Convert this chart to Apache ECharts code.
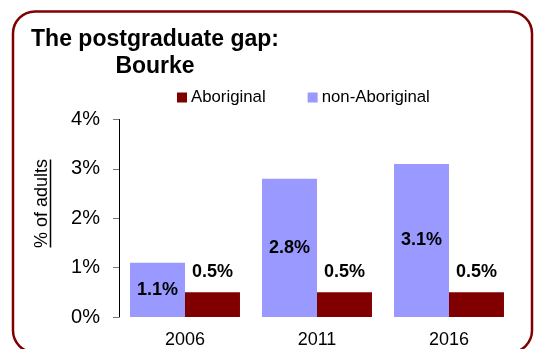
<!DOCTYPE html>
<html>
<head>
<meta charset="utf-8">
<script src="https://cdn.jsdelivr.net/npm/echarts@6/dist/echarts.min.js"></script>
<style>
  html, body { margin: 0; padding: 0; background: #fff; }
  #chart { width: 539px; height: 349px; }
</style>
</head>
<body>
<div id="chart"></div>
<script>
// Census years shown along the x axis
const years = ['2006', '2011', '2016'];
// Share of adults holding a postgraduate qualification (%)
const nonAboriginal = [1.1, 2.8, 3.1];
const aboriginal = [0.5, 0.5, 0.5];
// y axis ticks (%)
const yTicks = [0, 1, 2, 3, 4];

const FONT = '"Liberation Sans", Arial, Helvetica, sans-serif';
const DARK = '#800000';
const LIGHT = '#9999ff';

const chart = echarts.init(document.getElementById('chart'), null, { renderer: 'canvas' });

chart.setOption({
  animation: false,
  backgroundColor: '#fff',
  textStyle: { fontFamily: FONT },
  title: {
    text: 'The postgraduate gap:\nBourke',
    left: 155,
    top: 26,
    padding: 0,
    textAlign: 'center',
    textStyle: {
      fontFamily: FONT,
      fontSize: 23,
      fontWeight: 'bold',
      color: '#000',
      lineHeight: 27
    }
  },
  legend: {
    data: ['Aboriginal', 'non-Aboriginal'],
    left: 177,
    top: 89,
    padding: 0,
    itemWidth: 10,
    itemHeight: 10,
    itemGap: 42,
    icon: 'rect',
    textStyle: { fontFamily: FONT, fontSize: 16.8, color: '#000', padding: [0, 0, 0, -1] }
  },
  grid: { left: 119, right: 24, top: 119.5, bottom: 30.7 },
  xAxis: {
    type: 'category',
    data: years,
    axisLine: { show: false },
    axisTick: { show: false },
    axisLabel: { fontFamily: FONT, fontSize: 18, color: '#000', margin: 14 }
  },
  yAxis: {
    type: 'value',
    min: yTicks[0],
    max: yTicks[yTicks.length - 1],
    interval: 1,
    splitLine: { show: false },
    axisLine: { show: true, lineStyle: { color: '#000', width: 1 } },
    axisTick: { show: true, length: 6, lineStyle: { color: '#777' } },
    axisLabel: {
      fontFamily: FONT, fontSize: 20, color: '#000', margin: 19,
      formatter: v => v + '%'
    }
  },
  series: [
    {
      name: 'non-Aboriginal',
      type: 'bar',
      data: nonAboriginal,
      barGap: '0%',
      barCategoryGap: '16.7%',
      itemStyle: { color: LIGHT },
      label: {
        show: true,
        position: 'inside',
        formatter: p => p.value.toFixed(1) + '%',
        fontFamily: FONT, fontSize: 18, fontWeight: 'bold', color: '#000'
      }
    },
    {
      name: 'Aboriginal',
      type: 'bar',
      data: aboriginal,
      barGap: '0%',
      barCategoryGap: '16.7%',
      itemStyle: { color: DARK },
      label: {
        show: true,
        position: 'top',
        distance: 11,
        formatter: p => p.value.toFixed(1) + '%',
        fontFamily: FONT, fontSize: 18, fontWeight: 'bold', color: '#000'
      }
    }
  ],
  graphic: [
    {
      // rounded frame around the chart
      type: 'rect',
      shape: { x: 13, y: 11.5, width: 519, height: 341, r: 22 },
      style: { fill: null, stroke: DARK, lineWidth: 2.5 },
      silent: true
    },
    {
      // underlined y-axis title
      type: 'group',
      x: 42,
      y: 203.5,
      rotation: Math.PI / 2,
      children: [
        {
          type: 'text',
          style: {
            text: '% of adults',
            font: '18px ' + FONT,
            fill: '#000',
            align: 'center',
            verticalAlign: 'middle'
          }
        },
        {
          type: 'line',
          shape: { x1: -44, y1: 8.5, x2: 44, y2: 8.5 },
          style: { stroke: '#000', lineWidth: 1.5 }
        }
      ]
    }
  ]
});
</script>
</body>
</html>
